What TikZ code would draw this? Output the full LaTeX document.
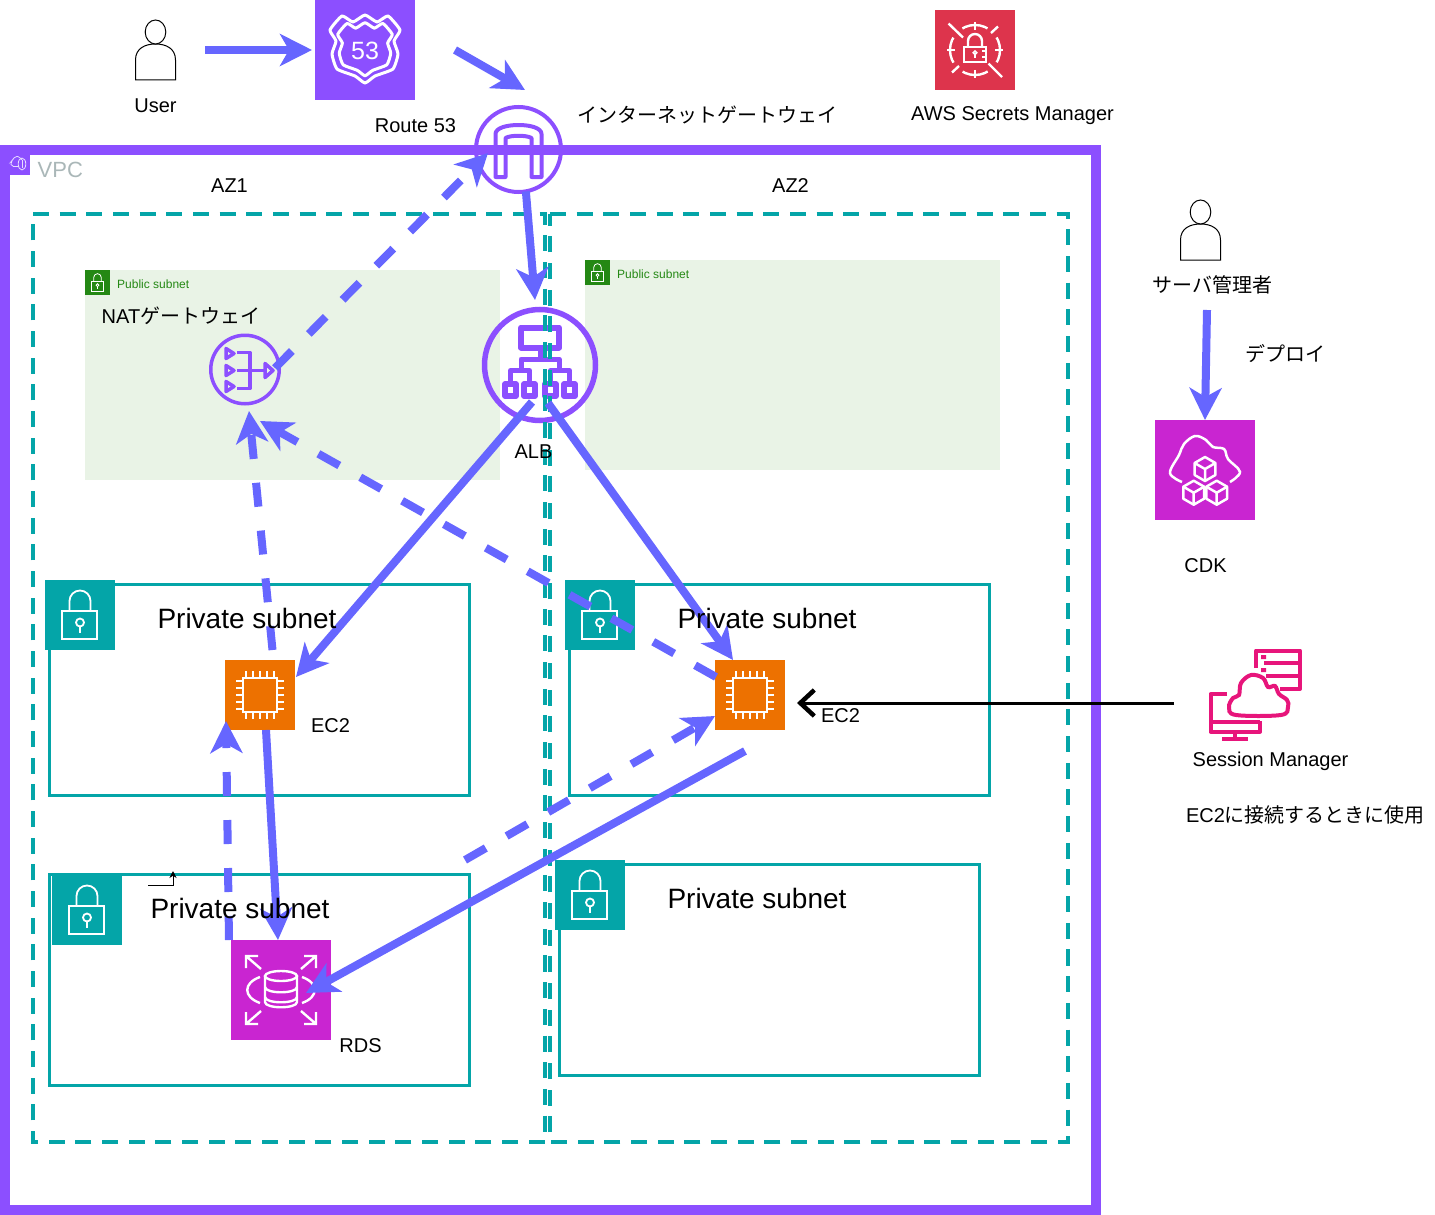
\documentclass[tikz,border=0pt]{standalone}
\usepackage{fontspec}
\setmainfont{Liberation Sans}
\newfontfamily\cjk{Noto Sans CJK JP}
\usetikzlibrary{arrows.meta, positioning, shapes.geometric}

\definecolor{flowblue}{HTML}{6666FF}
\definecolor{awspurple}{HTML}{8C4FFF}
\definecolor{awsteal}{HTML}{04A5A8}
\definecolor{awsgreen}{HTML}{248814}
\definecolor{awsorange}{HTML}{ED7100}
\definecolor{awsmagenta}{HTML}{C925D1}
\definecolor{awsred}{HTML}{DD344C}
\definecolor{awspink}{HTML}{E7157B}
\definecolor{pubfill}{HTML}{E9F3E6}
\definecolor{vpcgray}{HTML}{AAB7B8}

\tikzset{
    lbl/.style={font=\fontsize{20}{24}\selectfont, inner sep=0pt, text=black, yshift=-1pt, xshift=.5pt},
    biglbl/.style={font=\fontsize{28}{32}\selectfont, inner sep=0pt, text=black},
    publbl/.style={font=\fontsize{12}{14}\selectfont, inner sep=0pt, text=awsgreen, anchor=west},
    iconbox/.style={rectangle, inner sep=0pt, outer sep=0pt, minimum size=#1},
    ringicon/.style={circle, draw=awspurple, inner sep=0pt, outer sep=0pt, minimum size=#1},
    spot/.style={inner sep=0pt, outer sep=0pt, minimum size=2pt},
    flow/.style={draw=flowblue, line width=8pt, -{Stealth[length=32pt,width=32pt,inset=9pt]}},
    flowdash/.style={flow, dash pattern=on 24pt off 24pt},
    azbox/.style={draw=awsteal, line width=3.2pt, dash pattern=on 16pt off 10.67pt},
    privbox/.style={draw=awsteal, line width=3pt},
    pics/lockicon/.style={code={
        \draw[white, line width=#1] (-18,-4) rectangle (17,24);
        \draw[white, line width=#1] (-10.5,-4) -- (-10.5,-14) arc[start angle=180, end angle=0, radius=10.5pt] -- (10.5,-4);
        \draw[white, line width=#1] (0,7.5) circle[radius=4pt];
        \draw[white, line width=#1] (0,11.5) -- (0,18);
    }},
    pics/lockicon/.default=1.8pt,
    pics/usericon/.style={code={
        \draw[line width=1pt, fill=white] (-20,60) -- (-20,40) .. controls (-20,28) and (-10,24) .. (0,24) .. controls (10,24) and (20,28) .. (20,40) -- (20,60) -- cycle;
        \draw[line width=1pt, fill=white] (0,12) ellipse[x radius=10.3pt, y radius=12pt];
    }},
    pics/chipicon/.style={code={
        \draw[white, line width=2pt] (-17,-17) rectangle (17,17);
        \foreach \p in {-14,-7,0,7,14} {
            \draw[white, line width=2pt] (\p,-17) -- (\p,-24);
            \draw[white, line width=2pt] (\p,17) -- (\p,24);
            \draw[white, line width=2pt] (-17,\p) -- (-24,\p);
            \draw[white, line width=2pt] (17,\p) -- (24,\p);
        }
    }},
    pics/cubeicon/.style={code={
        \draw[white, line width=2.5pt, line join=round] (0,-12) -- (10.4,-6) -- (10.4,6) -- (0,12) -- (-10.4,6) -- (-10.4,-6) -- cycle;
        \draw[white, line width=2.5pt, line join=round] (-10.4,-6) -- (0,0) -- (10.4,-6) (0,0) -- (0,12);
    }},
    pics/shieldicon/.style={code={
        \draw[white, line width=3pt, line join=round] plot[smooth cycle, tension=.3] coordinates {(-23,-34) (-12,-28) (0,-35) (12,-28) (23,-34) (35,-20) (29,-9) (33,4) (28,19) (10,26) (0,33) (-10,26) (-28,19) (-33,4) (-29,-9) (-35,-20)};
    }},
    pics/cloudshape/.style={code={
        \draw[#1, line width=4pt, fill=white] plot[smooth cycle, tension=.6] coordinates {(-22,20) (-29,12) (-25,3) (-19,0) (-17,-12) (-7,-20) (5,-17) (10,-8) (17,-9) (21,-1) (29,5) (30,12) (23,20)};
    }},
    pics/albicon/.style={code={
        \draw[awspurple, line width=6pt, line join=round] (-19,-37.5) rectangle (19,-17.5);
        \draw[awspurple, line width=5pt, line join=round] (0,-17.5) -- (0,-6) (-19,5.5) -- (-19,-6) -- (19,-6) -- (19,5.5);
        \draw[awspurple, line width=5pt, line join=round] (-29.5,19) -- (-29.5,5.5) -- (-10.5,5.5) -- (-10.5,19);
        \draw[awspurple, line width=5pt, line join=round] (29.5,19) -- (29.5,5.5) -- (10.5,5.5) -- (10.5,19);
        \foreach \p in {-29.5,-10.5,10.5,29.5} {
            \draw[awspurple, line width=5.5pt, line join=round] (\p-5.5,19) rectangle (\p+5.5,31);
        }
    }},
    pics/naticon/.style={code={
        \foreach \p in {-16,1,17} {
            \draw[awspurple, line width=3.5pt, line join=round] (-19,\p-5) -- (-11,\p) -- (-19,\p+5) -- cycle;
        }
        \draw[awspurple, line width=3.5pt, line join=round] (-8,-17) -- (5,-17) -- (5,19) -- (-8,19);
        \draw[awspurple, line width=3.5pt] (-8,1) -- (20,1);
        \draw[awspurple, line width=3.5pt, line join=round] (20,-6) -- (28,1) -- (20,8) -- cycle;
    }},
}

\begin{document}
\begin{tikzpicture}[x=1pt, y=-1pt]
    \useasboundingbox (0,0) rectangle (1435,1215);

    % vpc frame
    \draw[awspurple, line width=10pt] (5,150) rectangle (1096,1210);
    \node[iconbox=20pt, fill=awspurple] (vpcicon) at (20,165) {};
    \draw[white!80!awspurple, line width=.8pt, rounded corners=2pt] (19,166.5) -- (11.5,166.5) -- (10.5,162) -- (13,160) -- (15,156) -- (20,157) -- (22,160);
    \draw[white!80!awspurple, line width=.8pt] (22,164) ellipse[x radius=3.8pt, y radius=6pt];
    \draw[white!80!awspurple, line width=.8pt] (22,160) -- (22,168);
    \node[lbl, anchor=west, text=vpcgray, font=\fontsize{22}{26}\selectfont] (vpclbl) at (37,169) {VPC};

    % public subnets
    \fill[pubfill] (85,270) rectangle (500,480);
    \fill[pubfill] (585,260) rectangle (1000,470);
    \node[iconbox=25pt, fill=awsgreen] (publockA) at (97.5,282.5) {};
    \pic[scale=.36] at (publockA) {lockicon=.8pt};
    \node[iconbox=25pt, fill=awsgreen] (publockB) at (597.5,272.5) {};
    \pic[scale=.36] at (publockB) {lockicon=.8pt};
    \node[publbl] (publblA) at (117,284) {Public subnet};
    \node[publbl] (publblB) at (617,274) {Public subnet};

    % private subnets
    \draw[privbox] (49,584) rectangle (469,795);
    \draw[privbox] (569,584) rectangle (989,795);
    \draw[privbox] (49,874) rectangle (469,1085);
    \draw[privbox] (559,864) rectangle (979,1075);
    \node[iconbox=70pt, fill=awsteal] (lockA) at (80,615) {};
    \pic at (lockA) {lockicon};
    \node[iconbox=70pt, fill=awsteal] (lockB) at (600,615) {};
    \pic at (lockB) {lockicon};
    \node[iconbox=70pt, fill=awsteal] (lockC) at (87,910) {};
    \pic at (lockC) {lockicon};
    \node[iconbox=70pt, fill=awsteal] (lockD) at (590,895) {};
    \pic at (lockD) {lockicon};

    % users
    \node[spot] (user) at (155.5,20) {};
    \pic at (user) {usericon};
    \node[spot] (admin) at (1200.5,200) {};
    \pic at (admin) {usericon};

    % route 53
    \node[iconbox=100pt, fill=awspurple] (route53) at (365,50) {};
    \pic at (route53) {shieldicon};
    \pic[scale=.78] at (route53) {shieldicon};
    \node[text=white, font=\fontsize{25}{28}\selectfont, inner sep=0pt] (num53) at (365,51) {53};

    % internet gateway
    \node[ringicon=85pt, line width=4pt] (igw) at (518.5,149.5) {};
    \draw[awspurple, line width=4pt, line join=round] (495.5,177) -- (495.5,134) .. controls (495.5,128) and (506.5,125) .. (518.5,125) .. controls (530.5,125) and (541.5,128) .. (541.5,134) -- (541.5,177) -- (531.5,177) -- (531.5,138) .. controls (526.5,135) and (510.5,135) .. (505.5,138) -- (505.5,177) -- cycle;

    % secrets manager
    \node[iconbox=80pt, fill=awsred] (secrets) at (975,50) {};
    \draw[white, line width=2.4pt, dash pattern=on 26.27pt off 13pt, dash phase=13.13pt] (secrets) circle[radius=25pt];
    \draw[white, line width=2.4pt] (947,50) -- (955,50) (995,50) -- (1003,50) (975,22) -- (975,30) (975,70) -- (975,78);
    \draw[white, line width=2.4pt] (948.5,23.5) -- (963,37.5) (988.5,63.5) -- (1002,77) (991,33) -- (998,26.5) (952,72.5) -- (959,66);
    \draw[white, line width=2.4pt] (964,47) rectangle (986,62);
    \draw[white, line width=2.4pt] (968,47) -- (968,41) arc[start angle=180, end angle=0, radius=7pt] -- (982,47);
    \draw[white, line width=1.6pt] (975,52.7) circle[radius=1.8pt] (975,54.5) -- (975,58);
    \draw[white, line width=1.6pt] (982,51) -- (986,51) (982,57) -- (986,57);

    % load balancer and nat
    \node[ringicon=111pt, line width=5.5pt] (alb) at (540,365) {};
    \pic at (alb) {albicon};
    \node[ringicon=68.5pt, line width=3.5pt] (natgw) at (245,369.5) {};
    \pic at (natgw) {naticon};

    % availability zones
    \draw[azbox] (33,214) -- (545,214) -- (545,1142) -- (33,1142) -- cycle;
    \draw[azbox] (550,214) -- (1068,214) -- (1068,1142) -- (550,1142) -- cycle;

    % ec2
    \node[iconbox=70pt, fill=awsorange] (ec2A) at (260,695) {};
    \pic at (ec2A) {chipicon};
    \node[iconbox=70pt, fill=awsorange] (ec2B) at (750,695) {};
    \pic at (ec2B) {chipicon};

    % rds
    \node[iconbox=100pt, fill=awsmagenta] (rds) at (281,990) {};
    \begin{scope}[shift={(281,990)}, white, line width=2.4pt]
        \draw (0,-14) ellipse[x radius=16pt, y radius=5pt];
        \draw (-16,-14) -- (-16,12) .. controls (-16,19) and (16,19) .. (16,12) -- (16,-14);
        \draw (-16,-3) .. controls (-16,4) and (16,4) .. (16,-3);
        \draw (-16,7) .. controls (-16,14) and (16,14) .. (16,7);
        \draw (-21,-13) .. controls (-38,-7) and (-38,7) .. (-21,13);
        \draw (21,-13) .. controls (38,-7) and (38,7) .. (21,13);
        \draw (-35,-22) -- (-35,-34) -- (-23,-34) (-35,-34) -- (-20,-21);
        \draw (35,-22) -- (35,-34) -- (23,-34) (35,-34) -- (20,-21);
        \draw (-35,22) -- (-35,34) -- (-23,34) (-35,34) -- (-20,21);
        \draw (35,22) -- (35,34) -- (23,34) (35,34) -- (20,21);
    \end{scope}

    % cdk
    \node[iconbox=100pt, fill=awsmagenta] (cdk) at (1205,470) {};
    \draw[white, line width=2.5pt] plot[smooth, tension=.6] coordinates {(1182,482) (1170,473) (1179,455) (1184,444) (1195,436) (1206,440) (1213,447) (1224,449) (1228,459) (1240,472) (1230,482)};
    \pic at (1205,469) {cubeicon};
    \pic at (1193.7,492.7) {cubeicon};
    \pic at (1216.7,492.7) {cubeicon};

    % session manager
    \node[spot] (ssm) at (1258,695) {};
    \draw[awspink, line width=4pt, line join=round] (1256,668) -- (1256,650.5) -- (1300,650.5) -- (1300,689) -- (1280,689);
    \draw[awspink, line width=4pt] (1264,663) -- (1300,663) (1266,676) -- (1300,676);
    \fill[awspink] (1261,655) rectangle (1266,659) (1261,668) rectangle (1266,672);
    \draw[awspink, line width=4pt, line join=round] (1227,694) -- (1210.5,694) -- (1210.5,731.5) -- (1260,731.5) -- (1260,721) (1210.5,722) -- (1260,722);
    \draw[awspink, line width=4pt] (1222,738.5) -- (1248,738.5) (1235,732) -- (1235,738);
    \pic at (ssm) {cloudshape=awspink};

    % free ends of the connectors
    \coordinate (userout) at (205,50);
    \coordinate (r53out) at (455,50);
    \coordinate (igwin) at (525,90);
    \coordinate (igwback) at (488,153);
    \coordinate (albin) at (535,300);
    \coordinate (natout) at (275,368);
    \coordinate (albleft) at (532,402);
    \coordinate (albright) at (548,403);
    \coordinate (ec2Ain) at (296,677);
    \coordinate (ec2Aup) at (272.5,650);
    \coordinate (ec2Aout) at (266,730);
    \coordinate (ec2Aback) at (226,721);
    \coordinate (ec2Bin) at (733,660);
    \coordinate (ec2Bleft) at (716,677);
    \coordinate (ec2Blow) at (715,716);
    \coordinate (ec2Bout) at (745,751);
    \coordinate (natinA) at (249,411);
    \coordinate (natinB) at (260,421);
    \coordinate (rdsin) at (278,940);
    \coordinate (rdsup) at (229,940);
    \coordinate (rdsinB) at (306,993);
    \coordinate (dashfree) at (465,860);
    \coordinate (adminout) at (1207,310);
    \coordinate (ssmout) at (1174,703);
    \coordinate (ec2Bright) at (797,703);
    \coordinate (elbowA) at (148,885);
    \coordinate (elbowB) at (173,871);

    % connectors
    \draw[flow, shorten >=3pt] (userout) -- (route53.west);
    \draw[flow] (r53out) -- (igwin);
    \draw[flow] (igw.-80) -- (albin);
    \draw[flowdash] (natout) -- (igwback);
    \draw[flow] (albleft) -- (ec2Ain);
    \draw[flow] (albright) -- (ec2Bin);
    \draw[flowdash] (ec2Bleft) -- (natinB);
    \draw[flowdash] (ec2Aup) -- (natinA);
    \draw[flow] (ec2Aout) -- (rdsin);
    \draw[flowdash] (rdsup) -- (ec2Aback);
    \draw[flow] (ec2Bout) -- (rdsinB);
    \draw[flowdash] (dashfree) -- (ec2Blow);
    \draw[flow] (adminout) -- (cdk.north);
    \draw[line width=3pt, -{Straight Barb[length=14pt,width=26pt,line width=4.5pt]}] (ssmout) -- (ec2Bright);
    \draw[line width=1pt, -{Stealth[length=7pt,width=7pt]}] (elbowA) -| (elbowB);

    % labels
    \node[lbl] (userlbl) at (155,105) {User};
    \node[lbl] (r53lbl) at (415,125) {Route 53};
    \node[lbl] (igwlbl) at (707,114) {\cjk インターネットゲートウェイ};
    \node[lbl] (secretslbl) at (1012,115) {AWS Secrets Manager};
    \node[lbl] (azAlbl) at (229,185) {AZ1};
    \node[lbl] (azBlbl) at (790,185) {AZ2};
    \node[lbl, anchor=west] (natlbl) at (101,315) {NAT{\cjk ゲートウェイ}};
    \node[lbl] (alblbl) at (533,451) {ALB};
    \node[biglbl] (privlblA) at (247,618) {Private subnet};
    \node[biglbl] (privlblB) at (767,618) {Private subnet};
    \node[biglbl] (privlblC) at (240,908) {Private subnet};
    \node[biglbl] (privlblD) at (757,898) {Private subnet};
    \node[lbl] (ec2lblA) at (330,725) {EC2};
    \node[lbl] (ec2lblB) at (840,715) {EC2};
    \node[lbl] (rdslbl) at (360,1045) {RDS};
    \node[lbl] (cdklbl) at (1205,565) {CDK};
    \node[lbl] (adminlbl) at (1212,284) {\cjk サーバ管理者};
    \node[lbl] (deploylbl) at (1285,353) {\cjk デプロイ};
    \node[lbl] (ssmlbl) at (1270,760) {Session Manager};
    \node[lbl] (ssmnote) at (1305,814) {EC2{\cjk に接続するときに使用}};
\end{tikzpicture}
\end{document}
